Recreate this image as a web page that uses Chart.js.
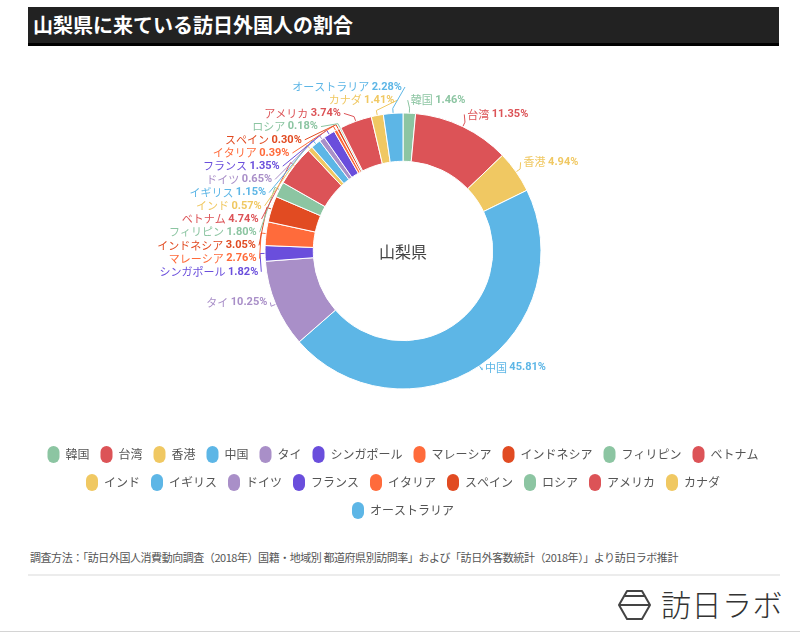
<!DOCTYPE html>
<html lang="ja">
<head>
<meta charset="utf-8">
<title>山梨県に来ている訪日外国人の割合</title>
<script src="https://cdn.jsdelivr.net/npm/chart.js@4.4.1/dist/chart.umd.min.js"></script>
<style>
  body { margin: 0; background: #fff; font-family: "Noto Sans CJK JP", "Noto Sans", sans-serif; }
  .page { position: relative; width: 800px; height: 633px; overflow: hidden; }
  .title {
    position: absolute; left: 28px; top: 7px; width: 751px; height: 36px;
    background: #222; border-bottom: 3px solid #000; box-sizing: content-box;
    color: #fff; font-weight: bold; font-size: 20px; line-height: 35px;
    text-indent: 5px; white-space: nowrap;
  }
  .chart-box { position: absolute; left: 0; top: 50px; width: 800px; height: 479px; }
  .note { position: absolute; left: 30px; top: 550px; font-size: 11px; line-height: 14px; letter-spacing: -0.45px; color: #555; white-space: nowrap; }
  .rule { position: absolute; left: 28px; top: 574px; width: 752px; height: 2px; background: #ececec; }
  .rule-bottom { position: absolute; left: 0; top: 631px; width: 800px; height: 1px; background: #d4d4d4; }
  .logo-icon { position: absolute; left: 617px; top: 589px; }
  .logo-text {
    position: absolute; left: 661px; top: 584px; font-size: 30px; line-height: 38px;
    font-weight: 300; letter-spacing: 0.5px; color: #333; white-space: nowrap;
  }
</style>
</head>
<body>
<div class="page">
  <div class="title">山梨県に来ている訪日外国人の割合</div>
  <div class="chart-box"><canvas id="pie"></canvas></div>
  <div class="note">調査方法：「訪日外国人消費動向調査（2018年）国籍・地域別 都道府県別訪問率」および「訪日外客数統計（2018年）」より訪日ラボ推計</div>
  <div class="rule"></div>
  <svg class="logo-icon" width="36" height="32" viewBox="0 0 36 32">
    <path d="M10 2 H25 L33 16 L25 30 H10 L2 16 Z" fill="none" stroke="#444" stroke-width="2" stroke-linejoin="round"/>
    <line x1="7" y1="7" x2="28" y2="7" stroke="#444" stroke-width="2"/>
    <line x1="2" y1="16" x2="33" y2="16" stroke="#444" stroke-width="2"/>
  </svg>
  <div class="logo-text">訪日ラボ</div>
  <div class="rule-bottom"></div>
</div>

<script>
const countries = ["韓国", "台湾", "香港", "中国", "タイ", "シンガポール", "マレーシア", "インドネシア",
  "フィリピン", "ベトナム", "インド", "イギリス", "ドイツ", "フランス", "イタリア", "スペイン",
  "ロシア", "アメリカ", "カナダ", "オーストラリア"];
const shares = [1.46, 11.35, 4.94, 45.81, 10.25, 1.82, 2.76, 3.05,
  1.80, 4.74, 0.57, 1.15, 0.65, 1.35, 0.39, 0.30,
  0.18, 3.74, 1.41, 2.28];
const palette = ["#8cc5a2", "#dc5357", "#f0c862", "#5db6e6", "#a98fc8", "#6a4edc", "#ff6b3b", "#e14b22"];
const centerLabel = "山梨県";

const nameFont = "11px 'Noto Sans CJK JP'";
const pctFont = "bold 11px Roboto";

// labels outside the ring with leader lines, stacked so they do not overlap
const sliceLabels = {
  id: "sliceLabels",
  afterDatasetsDraw(chart) {
    const ctx = chart.ctx;
    const arcs = chart.getDatasetMeta(0).data;
    if (!arcs.length) return;
    const cx = arcs[0].x;
    const cy = arcs[0].y;
    const R = arcs[0].outerRadius;
    const ring = R + 8;
    const baseY = cy - 5;
    const step = 13.2;
    const topLimit = cy - R - 26;

    const items = arcs.map((arc, i) => {
      const mid = (arc.startAngle + arc.endAngle) / 2;
      return { i, mid, left: Math.cos(mid) < 0, y: baseY + ring * Math.sin(mid) };
    });

    [true, false].forEach(side => {
      const group = items.filter(d => d.left === side).sort((a, b) => a.y - b.y);
      if (!group.length) return;
      for (let k = group.length - 2; k >= 0; k--) {
        group[k].y = Math.min(group[k].y, group[k + 1].y - step);
      }
      group[0].y = Math.max(group[0].y, topLimit);
      for (let k = 1; k < group.length; k++) {
        group[k].y = Math.max(group[k].y, group[k - 1].y + step);
      }
    });

    ctx.save();
    ctx.textBaseline = "middle";
    ctx.textAlign = "left";
    items.forEach(d => {
      const color = palette[d.i % palette.length];
      const dy = d.y - baseY;
      const dx = Math.sqrt(Math.max(0, ring * ring - dy * dy));
      const tx = d.left ? cx - dx - 1 : cx + dx + 1;
      const cos = Math.cos(d.mid), sin = Math.sin(d.mid);

      ctx.strokeStyle = color;
      ctx.lineWidth = 1;
      ctx.beginPath();
      ctx.moveTo(cx + (R + 0.5) * cos, cy + (R + 0.5) * sin);
      ctx.lineTo(cx + (R + 5) * cos, cy + (R + 5) * sin);
      ctx.lineTo(d.left ? tx + 3 : tx - 3, d.y);
      ctx.stroke();

      const name = countries[d.i];
      const pct = shares[d.i].toFixed(2) + "%";
      ctx.font = nameFont;
      const nw = ctx.measureText(name + " ").width;
      ctx.font = pctFont;
      const pw = ctx.measureText(pct).width;
      const x0 = d.left ? tx - nw - pw : tx;
      ctx.fillStyle = color;
      ctx.font = nameFont;
      ctx.fillText(name, x0, d.y);
      ctx.font = pctFont;
      ctx.fillText(pct, x0 + nw, d.y);
    });
    ctx.restore();
  },
  afterDraw(chart) {
    const arcs = chart.getDatasetMeta(0).data;
    if (!arcs.length) return;
    const ctx = chart.ctx;
    ctx.save();
    ctx.font = "16px 'Noto Sans CJK JP'";
    ctx.fillStyle = "#444";
    ctx.textAlign = "center";
    ctx.textBaseline = "middle";
    ctx.fillText(centerLabel, arcs[0].x, arcs[0].y + 1);
    ctx.restore();
  }
};

new Chart(document.getElementById("pie"), {
  type: "doughnut",
  data: {
    labels: countries,
    datasets: [{
      data: shares,
      backgroundColor: countries.map((c, i) => palette[i % palette.length]),
      borderColor: "#fff",
      borderWidth: 1
    }]
  },
  options: {
    responsive: true,
    maintainAspectRatio: false,
    animation: false,
    radius: 138,
    cutout: "65%",
    layout: { padding: { top: 17, left: 22, right: 16, bottom: 0 } },
    plugins: {
      tooltip: { enabled: false },
      legend: {
        position: "bottom",
        labels: {
          boxWidth: 12,
          boxHeight: 17,
          padding: 11,
          color: "#555",
          useBorderRadius: true,
          borderRadius: 6,
          font: { size: 12, family: "'Noto Sans CJK JP'" },
          generateLabels: chart => chart.data.labels.map((text, i) => ({
            text,
            fillStyle: palette[i % palette.length],
            strokeStyle: "rgba(0,0,0,0)",
            lineWidth: 0,
            fontColor: "#555",
            borderRadius: 6,
            hidden: false,
            index: i
          }))
        }
      }
    }
  },
  plugins: [sliceLabels]
});
</script>
</body>
</html>
